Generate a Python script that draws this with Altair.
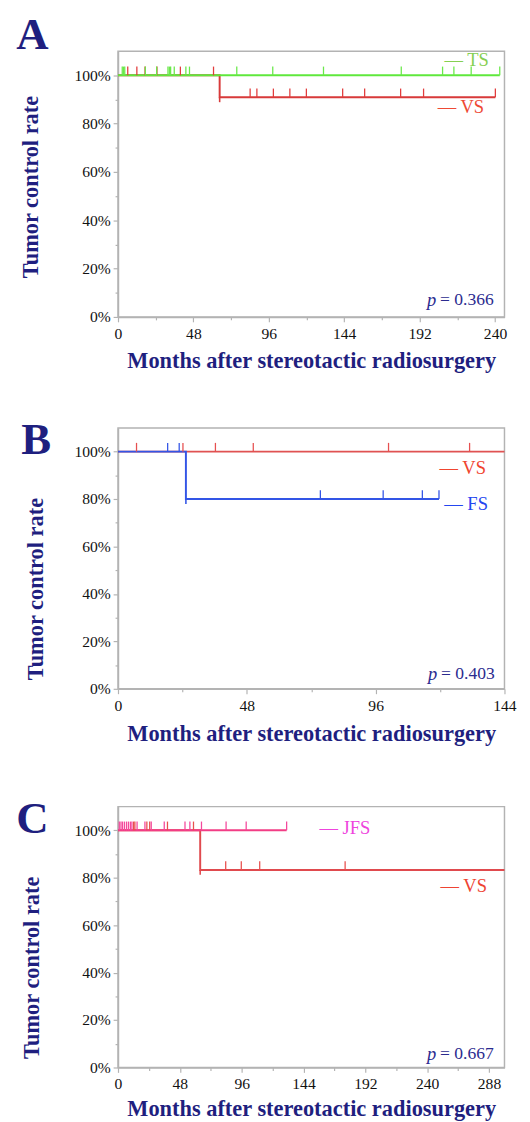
import altair as alt
import pandas as pd

FONT = "Liberation Serif"
NAVY = "#1f1f7f"
PNAVY = "#2b2b8f"
GRAY = "#b3b3b3"

# ---------------- Panel A ----------------
A_TS_T = [0, 243]
A_TS_S = [100, 100]
A_TS_CENSOR_100 = [2.7, 3.5, 4.3, 17.4, 24.6, 31.8, 32.7, 33.5, 35.8, 43.2, 45.5,
                   75.6, 98.5, 130.8, 180.3, 206.6, 213.8, 224.8, 243]
A_VS_T = [0, 64.7, 240.2]
A_VS_S = [100, 90.9, 90.9]
A_VS_CENSOR_100 = [6.2, 12.0, 17.2, 24.8, 39.7, 60.8]
A_VS_CENSOR_909 = [84.1, 88.4, 98.9, 109.4, 119.9, 143.0, 157.0, 179.9, 194.5, 240.2]

# ---------------- Panel B ----------------
B_VS_T = [0, 144]
B_VS_S = [100, 100]
B_VS_CENSOR_100 = [6.9, 24.2, 36.3, 50.4, 100.8, 131.0]
B_FS_T = [0, 25.3, 119.6]
B_FS_S = [100, 80, 80]
B_FS_CENSOR_100 = [18.5, 22.8]
B_FS_CENSOR_80 = [75.4, 98.8, 113.4, 119.6]

# ---------------- Panel C ----------------
C_VS_T = [0, 63.8, 300]
C_VS_S = [100, 83.3, 83.3]
C_VS_CENSOR_100 = [12.1, 13.1, 22.4, 24.6, 38.4, 58.6]
C_VS_CENSOR_833 = [83.6, 95.7, 110.0, 176.3]
C_JFS_T = [0, 130.9]
C_JFS_S = [100, 100]
C_JFS_CENSOR_100 = [1.0, 2.3, 3.5, 5.0, 6.6, 8.1, 9.6, 10.8, 14.8, 20.9, 25.8, 35.9,
                    52.0, 55.8, 64.8, 83.9, 99.5, 130.9]

X_TITLE = "Months after stereotactic radiosurgery"
Y_TITLE = "Tumor control rate"


def censor_df(groups):
    rows = []
    for level, times in groups:
        for t in times:
            rows.append({"t": t, "s": level})
    return pd.DataFrame(rows)


def panel(letter, letter_xy, xmax, xlast, W, H, series, legends, pval, p_xy,
          ytitle_xy, xtitle_y, spacer_y):
    xaxis = alt.Axis(
        values=list(range(0, xlast + 1, 24)),
        labelExpr="datum.value % 48 === 0 ? datum.value : ''",
        tickSize={"condition": {"test": "datum.value % 48 === 0", "value": 5}, "value": 3},
        title=X_TITLE, titleY=xtitle_y, titleBaseline="middle",
        labelPadding=4, labelFlush=False, labelOverlap=False, grid=False,
    )
    yaxis = alt.Axis(
        values=list(range(0, 101, 10)),
        labelExpr="datum.value % 20 === 0 ? datum.value + '%' : ''",
        tickSize={"condition": {"test": "datum.value % 20 === 0", "value": 5}, "value": 3},
        title=Y_TITLE, titleX=ytitle_xy[0], titleY=ytitle_xy[1], titleAngle=270,
        titleBaseline="middle", titleAlign="center",
        labelPadding=3, labelFlush=False, labelOverlap=False, grid=False,
    )
    X = alt.X("t:Q", scale=alt.Scale(domain=[0, xmax], nice=False, zero=False), axis=xaxis)
    Y = alt.Y("s:Q", scale=alt.Scale(domain=[0, 110], nice=False), axis=yaxis)

    layers = []
    for s in series:
        df = pd.DataFrame({"t": s["t"], "s": s["s"]})
        layers.append(alt.Chart(df).mark_line(interpolate="step-after", strokeWidth=2,
                                              color=s["line"]).encode(x=X, y=Y))
    for s in series:
        drops = [{"t": s["t"][i], "s": s["s"][i]} for i in range(1, len(s["t"]))
                 if s["s"][i] < s["s"][i - 1]]
        if drops:
            layers.append(alt.Chart(pd.DataFrame(drops)).mark_rule(
                strokeWidth=1.6, color=s["line"], y2Offset=5).encode(x=X, y=Y, y2=alt.Y2("s")))
        layers.append(alt.Chart(censor_df(s["censor"])).mark_rule(
            strokeWidth=1.3, color=s["tick"], y2Offset=-9).encode(x=X, y=Y, y2=alt.Y2("s")))

    one = pd.DataFrame({"k": [0]})
    for txt, x, y, align, col in legends:
        layers.append(alt.Chart(one).mark_text(
            text=txt, font=FONT, fontSize=19, color=col, align=align, baseline="middle"
        ).encode(x=alt.value(x), y=alt.value(y)))
    # p-value
    layers.append(alt.Chart(one).mark_text(
        text="= " + pval, font=FONT, fontSize=18, color=PNAVY, align="right", baseline="middle"
    ).encode(x=alt.value(p_xy[0]), y=alt.value(p_xy[1])))
    layers.append(alt.Chart(one).mark_text(
        text="p", font=FONT, fontSize=19, fontStyle="italic", color=PNAVY, align="right",
        baseline="middle"
    ).encode(x=alt.value(p_xy[0] - 59), y=alt.value(p_xy[1])))
    # panel letter
    layers.append(alt.Chart(one).mark_text(
        text=letter, font=FONT, fontSize=46, fontWeight="bold", color=NAVY, align="center",
        baseline="middle"
    ).encode(x=alt.value(letter_xy[0]), y=alt.value(letter_xy[1])))
    # invisible spacer that sets the gap above the panel
    layers.append(alt.Chart(one).mark_text(
        text=".", fontSize=10, opacity=0, baseline="top", align="center"
    ).encode(x=alt.value(W / 2), y=alt.value(spacer_y)))
    return alt.layer(*layers).properties(width=W, height=H)


W = 397

chart_a = panel(
    "A", (-88, -16), 246, 240, W, 273,
    [
        {"t": A_VS_T, "s": A_VS_S, "line": "#d83a3a", "tick": "#e23c3c",
         "censor": [(100, A_VS_CENSOR_100), (90.9, A_VS_CENSOR_909)]},
        {"t": A_TS_T, "s": A_TS_S, "line": "#5fe83c", "tick": "#6ae84a",
         "censor": [(100, A_TS_CENSOR_100)]},
    ],
    [("— TS", 381, 9, "right", "#86cf52"), ("— VS", 376, 58, "right", "#ee4a35")],
    "0.366", (386, 256), (-90, 139), 45, -31,
)

chart_b = panel(
    "B", (-84, 13), 144, 144, W, 268,
    [
        {"t": B_VS_T, "s": B_VS_S, "line": "#e05252", "tick": "#e65050",
         "censor": [(100, B_VS_CENSOR_100)]},
        {"t": B_FS_T, "s": B_FS_S, "line": "#3355e6", "tick": "#3355e6",
         "censor": [(100, B_FS_CENSOR_100), (80, B_FS_CENSOR_80)]},
    ],
    [("— VS", 378, 41, "right", "#f0452f"), ("— FS", 380, 78, "right", "#2446f0")],
    "0.403", (387, 253), (-85, 165), 46, -55,
)

chart_c = panel(
    "C", (-88, 13), 300, 288, W, 268,
    [
        {"t": C_VS_T, "s": C_VS_S, "line": "#e04a4e", "tick": "#e8504e",
         "censor": [(100, C_VS_CENSOR_100), (83.3, C_VS_CENSOR_833)]},
        {"t": C_JFS_T, "s": C_JFS_S, "line": "#f23d85", "tick": "#f4489c",
         "censor": [(100, C_JFS_CENSOR_100)]},
    ],
    [("— JFS", 207, 22, "left", "#ee44dd"), ("— VS", 379, 82, "right", "#ee4433")],
    "0.667", (386, 254), (-89, 165), 42, -61,
)

chart = alt.vconcat(chart_a, chart_b, chart_c, spacing=0).properties(
    padding={"left": 7, "top": -11, "right": 5, "bottom": 0}
).configure_view(
    stroke=GRAY, strokeWidth=1.5
).configure_axis(
    domainColor=GRAY, domainWidth=1.5, tickColor=GRAY, tickWidth=1.2,
    labelFont=FONT, labelFontSize=16, labelColor="#111111",
    titleFont=FONT, titleFontSize=23, titleFontWeight="bold", titleColor=NAVY,
)

chart.save("out.html", embed_options={"renderer": "svg", "actions": False})
